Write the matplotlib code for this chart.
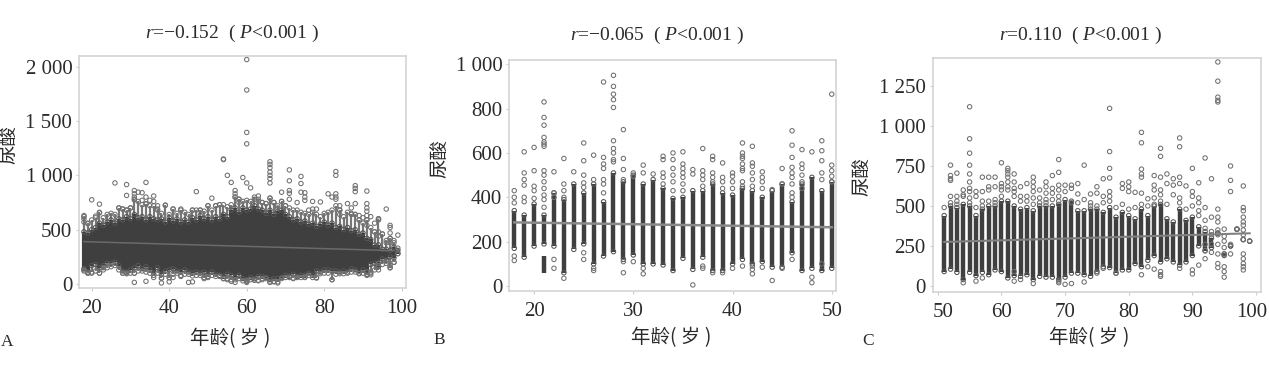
import numpy as np
from matplotlib import pyplot as plt
from matplotlib.transforms import ScaledTranslation

plt.rcParams['font.family'] = ['Liberation Serif', 'DejaVu Sans']
plt.rcParams['mathtext.fontset'] = 'custom'
plt.rcParams['mathtext.rm'] = 'Liberation Serif'
plt.rcParams['mathtext.it'] = 'Liberation Serif:italic'

W, H = 1269, 379
CJK = ['Noto Sans CJK SC', 'DejaVu Sans']

# Panel A: dense band per age, ages 18..99
ages_a = list(range(18, 100))
low_a = [140, 110, 170, 180, 150, 170, 190, 190, 200, 170, 120, 110, 130, 150, 170, 140, 160, 130, 100, 150,
         90, 120, 130, 140, 120, 110, 130, 110, 100, 110, 100, 110, 90, 110, 90, 80, 70, 90, 80, 60,
         80, 50, 40, 60, 50, 70, 70, 60, 40, 50, 50, 60, 80, 70, 90, 70, 80, 80, 100, 80,
         120, 110, 130, 130, 120, 120, 110, 120, 110, 140, 130, 100, 130, 90, 180, 190, 160, 230, 220, 250,
         240, 280]
high_a = [480, 470, 500, 520, 560, 540, 570, 590, 560, 600, 590, 620, 600, 640, 610, 620, 590, 620, 600, 590,
          600, 570, 610, 580, 600, 570, 590, 570, 610, 590, 630, 600, 620, 590, 620, 600, 640, 620, 680, 700,
          660, 700, 680, 690, 720, 690, 680, 650, 680, 640, 670, 680, 640, 620, 590, 600, 570, 580, 550, 560,
          530, 550, 570, 540, 560, 520, 530, 500, 520, 490, 500, 460, 470, 420, 410, 360, 360, 320, 320, 310,
          340, 310]
# lighter ring fringe above and below the band
fringe_top_a = [620, 560, 590, 610, 660, 610, 640, 650, 640, 700, 690, 680, 700, 780, 760, 730, 740, 720, 720, 690,
                650, 725, 640, 690, 650, 680, 660, 640, 680, 680, 680, 670, 720, 680, 720, 730, 730, 710, 730, 800,
                780, 760, 770, 760, 800, 780, 750, 740, 790, 750, 720, 760, 720, 700, 680, 680, 660, 650, 640, 660,
                640, 620, 650, 660, 680, 720, 680, 620, 660, 640, 640, 590, 560, 590, 520, 480, 600, 460, 400, 420,
                380, 330]
fringe_bot_a = [120, 100, 110, 120, 100, 130, 150, 160, 170, 130, 100, 95, 100, 100, 120, 120, 110, 100, 80, 100,
                55, 90, 60, 90, 100, 80, 90, 90, 75, 80, 80, 60, 70, 80, 70, 70, 50, 50, 40, 40,
                50, 30, 25, 40, 35, 35, 50, 50, 20, 25, 20, 50, 60, 60, 55, 60, 60, 65, 80, 60,
                60, 95, 100, 100, 40, 90, 95, 95, 100, 110, 110, 95, 100, 80, 110, 130, 130, 180, 190, 150,
                200, 280]
# one list of stray points per age
out_a = [[630, 600, 570, 130], [555, 100], [775, 100], [625], [735, 655, 100], [150], [], [], [930], [700],
         [690, 100], [915, 815, 680, 100], [700], [860, 830, 800, 775, 100, 15], [845], [840, 770], [935, 800, 735, 25], [770], [810, 760, 60], [720, 680],
         [10, 55], [725], [20, 60], [690, 60], [], [690, 70], [], [15], [680, 20], [850],
         [680], [50], [720, 60], [790], [720], [730], [1150, 1145, 50], [1000, 40], [935, 25], [860, 830, 800, 15],
         [780, 750], [980], [2065, 1785, 1395, 1290, 930, 30, 15], [885], [780, 35], [810, 760, 30], [750, 40], [740], [1125, 1100, 1070, 1030, 1000, 970, 930, 790, 15], [750, 20],
         [700, 10], [845, 760], [720], [1050, 950, 860, 835, 780], [50], [750], [990, 925, 845], [840, 800, 770, 60], [680], [760, 690],
         [690, 55], [755], [], [830], [800, 40], [1035, 1000, 830, 800, 780], [720, 680, 640], [], [740], [700, 650],
         [905, 880, 850, 740, 640], [630, 590], [610], [855, 740, 700, 670, 630, 590, 540, 110], [620, 100, 85], [560, 480], [600, 590, 480, 440, 190, 170], [460], [690, 380, 210], [540, 520, 470, 420, 380, 170, 150],
         [400, 200], [450]]
trend_a_x = [18, 98]
trend_a_y = [390, 307]

# Panel B, ages 18..50
ages_b = list(range(18, 51))
low_b = [170, 130, 180, 190, 180, 60, 165, 190, 100, 135, 155, 120, 140, 100, 100, 95, 70, 125, 75, 130,
         70, 70, 100, 120, 100, 110, 85, 85, 150, 70, 80, 70, 80]
high_b = [340, 320, 370, 320, 420, 390, 460, 420, 460, 380, 510, 470, 500, 460, 480, 440, 395, 400, 430, 430,
          460, 420, 410, 440, 430, 400, 430, 460, 380, 460, 490, 430, 470]
extra_b_x = [21]
extra_b_low = [60]
extra_b_high = [135]
out_b = [[430, 400, 375, 135, 115], [605, 510, 480, 455, 400, 380], [625, 520, 450, 430, 395],
         [830, 760, 725, 670, 650, 640, 630, 520, 500, 470, 440, 410, 390, 355], [515, 420, 400, 120, 80],
         [575, 460, 430, 400, 35], [515], [645, 565, 500, 465, 445, 150, 120], [590, 480, 80, 70],
         [920, 580, 550, 530, 480, 460, 420], [950, 900, 865, 840, 805, 655, 620, 600, 570, 560],
         [705, 575, 525, 480, 110, 60], [510, 495, 110], [545, 510, 80, 55], [505],
         [585, 570, 510, 490, 460], [600, 570, 530, 500, 470, 430], [605, 550, 530, 510, 490, 460, 430],
         [525, 505, 5], [620, 520, 500, 480, 450, 90, 80], [585, 570, 510, 490, 470, 60],
         [555, 490, 470, 440, 60], [510, 495, 470, 440, 80], [645, 600, 585, 575, 550, 530, 520, 470, 450, 90],
         [630, 555, 540, 510, 480, 450, 90, 75, 55], [515, 490, 470, 440, 85], [435, 25], [530, 460, 80],
         [700, 635, 580, 535, 510, 490, 460, 420, 400, 120], [615, 550, 530, 500, 470, 440], [605, 40, 15],
         [655, 610, 565, 510, 480, 100], [865, 545, 520, 495, 470]]
trend_b_x = [18, 50]
trend_b_y = [287, 265]

# Panel C, ages 51..99 (zero height bands at the sparse end)
ages_c = list(range(51, 100))
low_c = [90, 105, 85, 40, 85, 65, 85, 70, 100, 90, 50, 65, 60, 70, 40, 60, 55, 55, 40, 55,
         80, 80, 70, 60, 90, 120, 115, 80, 100, 100, 140, 120, 160, 190, 150, 170, 150, 130, 150, 190,
         250, 220, 240, 330, 190, 250, 355, 290, 280]
high_c = [440, 500, 490, 510, 500, 440, 480, 500, 500, 530, 530, 500, 480, 490, 470, 500, 500, 500, 510, 540,
          530, 470, 470, 480, 480, 460, 490, 430, 460, 440, 420, 480, 440, 500, 510, 420, 400, 480, 410, 430,
          370, 340, 300, 330, 200, 250, 355, 290, 280]
out_c = [[490], [755, 690, 670, 660, 560, 520], [705, 560, 530, 510], [600, 570, 560, 20],
         [1120, 920, 830, 755, 700, 650, 610, 590, 550, 520], [590, 560, 490, 30], [680, 590, 530, 500, 50],
         [680, 620, 600, 530], [680, 620, 540, 520], [770, 640, 620, 600, 560], [735, 720, 700, 680, 650, 620, 600],
         [700, 650, 610, 590, 560, 90, 30], [620, 560, 530, 40], [640, 560, 530], [680, 650, 620, 590, 550, 510, 15],
         [600, 550, 520], [650, 620, 580, 540, 520], [690, 610, 580, 540], [790, 710, 630, 600, 560, 530, 30, 20],
         [630, 590, 10], [630, 610, 520, 15], [640, 575, 520], [755, 540, 25], [575, 520, 500], [620, 580, 500, 80],
         [670, 560, 520, 110], [1110, 840, 735, 675, 590, 560, 530], [490, 80], [640, 610, 510], [650, 620, 590, 480],
         [585, 490], [960, 895, 730, 700, 680, 580, 510, 70], [545, 500, 120], [690, 630, 600, 550, 510, 105],
         [860, 810, 680, 600, 570, 530, 90, 70, 60], [700, 640, 510], [670, 630, 570],
         [925, 870, 680, 640, 550, 520, 110], [625, 480], [735, 590, 560, 500, 100, 75], [645, 550, 520, 470, 440, 130],
         [800, 490, 410, 360, 260, 220, 170], [670, 430, 340, 320, 260, 210],
         [1400, 1280, 1180, 1160, 1150, 480, 430, 400, 350, 320, 260, 200, 140, 115],
         [355, 310, 280, 240, 200, 120, 90, 55], [750, 660, 590, 260, 200], [355],
         [625, 490, 470, 430, 400, 380, 350, 320, 290, 200, 170, 140, 120, 100], [280]]
trend_c_x = [51, 99]
trend_c_y = [275, 329]

titles = ['$\\mathit{r}$=\u22120.152  ( $\\mathit{P}$<0.001 )',
          '$\\mathit{r}$=\u22120.065  ( $\\mathit{P}$<0.001 )',
          '$\\mathit{r}$=0.110  ( $\\mathit{P}$<0.001 )']
xticks_a = [20, 40, 60, 80, 100]
xticks_b = [20, 30, 40, 50]
xticks_c = [50, 60, 70, 80, 90, 100]
yticks_a = [0, 500, 1000, 1500, 2000]
yticks_b = [0, 200, 400, 600, 800, 1000]
yticks_c = [0, 250, 500, 750, 1000, 1250]


def fmt(v):
    # thin gap for thousands, like the journal does
    return f'{v // 1000} {v % 1000:03d}' if v >= 1000 else str(v)


def rings(ax, xs, ys, c='#707070'):
    ax.scatter(xs, ys, s=10, facecolors='none', edgecolors=c, linewidths=0.75, zorder=2)


def panel(box, xlim, ylim, ages, low, high, out, tx, ty, xticks, yticks, lw, trend_c, trend_lw):
    l, t, r, b = box
    ax = fig.add_axes([l / W, 1 - b / H, (r - l) / W, (b - t) / H])
    ax.vlines(ages, low, high, color='#3f3f3f', lw=lw, zorder=2)
    rings(ax, ages, low, '#555555')
    rings(ax, ages, high, '#555555')
    xs = [a for a, vals in zip(ages, out) for _ in vals]
    ys = [v for vals in out for v in vals]
    rings(ax, xs, ys)
    ax.plot(tx, ty, color=trend_c, lw=trend_lw, zorder=3)
    ax.set_xlim(xlim)
    ax.set_ylim(ylim)
    ax.set_xticks(xticks)
    ax.set_yticks(yticks)
    ax.set_yticklabels([fmt(v) for v in yticks])
    ax.tick_params(length=2, width=0.8, color='#cccccc', labelsize=15, labelcolor='#2b2b2b')
    ax.tick_params(axis='x', pad=6)
    ax.tick_params(axis='y', pad=3)
    for s in ax.spines.values():
        s.set_color('#d4d4d4')
        s.set_linewidth(1.2)
    return ax


def label(x, y, s, **kw):
    fig.text(x / W, 1 - y / H, s, ha='center', va='center', color='#2b2b2b', **kw)


fig = plt.figure(figsize=(W / 100, H / 100), dpi=100)

ax_a = panel((79.3, 56, 406, 287.5), (16.8, 101.1), (-32, 2098), ages_a, low_a, high_a, out_a,
             trend_a_x, trend_a_y, xticks_a, yticks_a, 3.0, '#6a6a6a', 1.1)
# fringe: thin grey stems with rings on their tips
ax_a.vlines(ages_a, high_a, fringe_top_a, color='#777777', lw=1.6, zorder=1)
ax_a.vlines(ages_a, fringe_bot_a, low_a, color='#777777', lw=1.6, zorder=1)
rings(ax_a, ages_a, fringe_top_a)
rings(ax_a, ages_a, fringe_bot_a)

ax_b = panel((509.3, 60, 836.3, 290.7), (17.5, 50.46), (-21, 1019), ages_b, low_b, high_b, out_b,
             trend_b_x, trend_b_y, xticks_b, yticks_b, 3.2, '#8a8a8a', 1.8)
ax_b.vlines(extra_b_x, extra_b_low, extra_b_high, color='#3f3f3f', lw=3.2, zorder=2)
ax_c = panel((932.7, 58.3, 1261.3, 291.7), (49.2, 100.83), (-36, 1423), ages_c, low_c, high_c, out_c,
             trend_c_x, trend_c_y, xticks_c, yticks_c, 3.2, '#808080', 1.5)

# end labels of panel C sit nudged inwards in the original
xlabels_c = ax_c.get_xticklabels()
xlabels_c[0].set_transform(xlabels_c[0].get_transform() + ScaledTranslation(5 / 100, 0, fig.dpi_scale_trans))
xlabels_c[-1].set_transform(xlabels_c[-1].get_transform() + ScaledTranslation(-4 / 100, 0, fig.dpi_scale_trans))

label(232, 33, titles[0], fontsize=14)
label(657, 35, titles[1], fontsize=14)
label(1080, 35, titles[2], fontsize=14)

label(230, 339, '年龄( 岁 )', fontsize=14, family=CJK)
label(671, 338, '年龄( 岁 )', fontsize=14, family=CJK)
label(1089, 338, '年龄( 岁 )', fontsize=14, family=CJK)

label(9, 145, '尿酸', fontsize=14, family=CJK, rotation=90)
label(440, 158, '尿酸', fontsize=14, family=CJK, rotation=90)
label(862, 177, '尿酸', fontsize=14, family=CJK, rotation=90)

label(7, 342, 'A', fontsize=12.5)
label(439, 340, 'B', fontsize=12.5)
label(868, 341, 'C', fontsize=12.5)

fig.savefig('out.png', dpi=100)
